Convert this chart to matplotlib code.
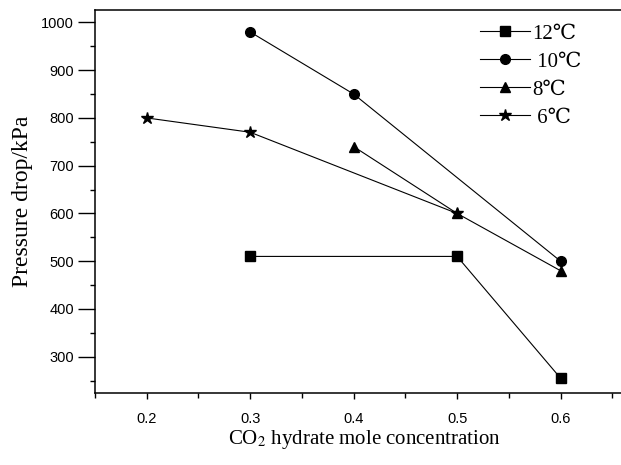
import matplotlib
matplotlib.use("Agg")
import matplotlib.pyplot as plt
from matplotlib.ticker import MultipleLocator

# data
x_12 = [0.3, 0.5, 0.6]
p_12 = [510, 510, 255]
x_10 = [0.3, 0.4, 0.6]
p_10 = [980, 850, 500]
x_8 = [0.4, 0.5, 0.6]
p_8 = [740, 600, 480]
x_6 = [0.2, 0.3, 0.5]
p_6 = [800, 770, 600]
labels = ["12℃", " 10℃", "8℃", " 6℃"]

plt.rcParams['mathtext.fontset'] = 'stix'
serif = ['Liberation Serif', 'DejaVu Serif', 'Noto Sans CJK SC']

fig = plt.figure(figsize=(6.21, 4.65), dpi=100)
ax = fig.add_axes([95 / 621, 72 / 465, 538 / 621, 383 / 465])

ax.plot(x_12, p_12, color='k', lw=0.8, marker='s', ms=6.5, label=labels[0])
ax.plot(x_10, p_10, color='k', lw=0.8, marker='o', ms=7, label=labels[1])
ax.plot(x_8, p_8, color='k', lw=0.8, marker='^', ms=7.5, label=labels[2])
ax.plot(x_6, p_6, color='k', lw=0.8, marker='*', ms=9, label=labels[3])

ax.set_xlim(0.15, 0.67)
ax.set_ylim(224, 1026)
ax.xaxis.set_minor_locator(MultipleLocator(0.05))
ax.yaxis.set_minor_locator(MultipleLocator(50))
ax.tick_params(which='major', direction='out', width=1, labelsize=10.5)
ax.tick_params(axis='x', which='major', length=4, pad=10)
ax.tick_params(axis='y', which='major', length=12, pad=3)
ax.tick_params(which='minor', direction='out', length=3.5, width=1)
ax.set_xticks([0.2, 0.3, 0.4, 0.5, 0.6])
ax.set_xticklabels(['0.2', '0.3', '0.4', '0.5', '0.6'], family='Liberation Sans')
ax.set_yticks([300, 400, 500, 600, 700, 800, 900, 1000])
ax.set_yticklabels(['300', '400', '500', '600', '700', '800', '900', '1000'],
                   family='Liberation Sans')

for s in ax.spines.values():
    s.set_linewidth(1.1)

ax.set_xlabel('CO$_{2}$ hydrate mole concentration', family=serif, fontsize=15, labelpad=1)
ax.set_ylabel('Pressure drop/kPa', family=serif, fontsize=17, labelpad=6)

leg = ax.legend(loc='upper left', bbox_to_anchor=(0.70, 0.985), frameon=False,
                prop={'family': serif, 'size': 15}, handlelength=2.4,
                handletextpad=0.1, labelspacing=0.4, borderaxespad=0)

fig.savefig('out.png', dpi=100)
